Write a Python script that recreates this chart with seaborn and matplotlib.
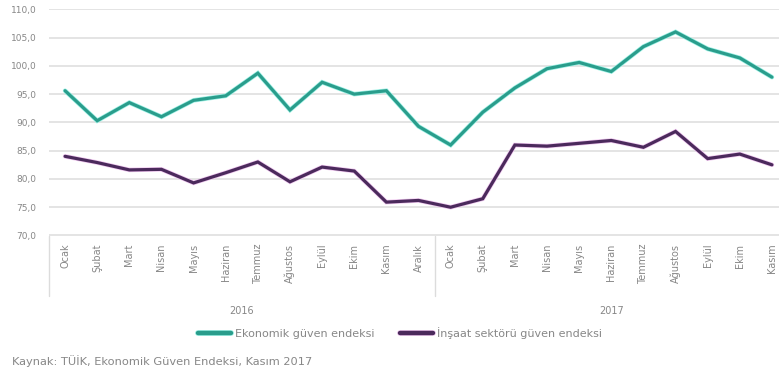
import numpy as np
import pandas as pd
import matplotlib
matplotlib.use("Agg")
import matplotlib.pyplot as plt
import matplotlib.patheffects as pe
import seaborn as sns

# Monthly index values, Jan 2016 - Nov 2017
months = ["Ocak", "Şubat", "Mart", "Nisan", "Mayıs", "Haziran", "Temmuz",
          "Ağustos", "Eylül", "Ekim", "Kasım", "Aralık",
          "Ocak", "Şubat", "Mart", "Nisan", "Mayıs", "Haziran", "Temmuz",
          "Ağustos", "Eylül", "Ekim", "Kasım"]
years = ["2016", "2017"]
year_lengths = [12, 11]

ekonomik = [95.6, 90.3, 93.5, 91.0, 93.9, 94.7, 98.7, 92.2, 97.1, 95.0, 95.6, 89.3,
            86.0, 91.8, 96.1, 99.5, 100.6, 99.0, 103.4, 106.0, 103.0, 101.4, 98.0]
insaat = [84.0, 82.9, 81.6, 81.7, 79.3, 81.1, 83.0, 79.5, 82.1, 81.4, 75.9, 76.2,
          75.0, 76.5, 86.0, 85.8, 86.3, 86.8, 85.6, 88.4, 83.6, 84.4, 82.5]

series_names = ["Ekonomik güven endeksi", "İnşaat sektörü güven endeksi"]
palette = {series_names[0]: "#2a9d8c", series_names[1]: "#4b2a5c"}
halo = {series_names[0]: "#9ff2e6", series_names[1]: "#f0c8f0"}
source_note = "Kaynak: TÜİK, Ekonomik Güven Endeksi, Kasım 2017"

yticks = [70, 75, 80, 85, 90, 95, 100, 105, 110]

df = pd.concat([
    pd.DataFrame({"pos": np.arange(len(months)), "value": ekonomik, "seri": series_names[0]}),
    pd.DataFrame({"pos": np.arange(len(months)), "value": insaat, "seri": series_names[1]}),
])

sns.set_theme(style="white")
plt.rcParams["font.family"] = ["DejaVu Sans"]
text_color = "#878787"
grid_color = "#e4e4e4"

W, H = 779, 376
fig = plt.figure(figsize=(W / 100, H / 100), dpi=100)
ax = fig.add_axes([49 / W, 1 - 235.5 / H, 1 - 49 / W, (235.5 - 9.3) / H])

sns.lineplot(data=df, x="pos", y="value", hue="seri", palette=palette,
             linewidth=2.3, ax=ax, legend=False, sort=False)
for line, name in zip(ax.get_lines(), series_names):
    line.set_path_effects([pe.Stroke(linewidth=3.3, foreground=halo[name]), pe.Normal()])
    line.set_solid_joinstyle("miter")

ax.set_ylim(70, 110)
ax.set_xlim(-0.5, len(months) - 0.5 - 0.28)
ax.set_yticks(yticks)
ax.set_yticklabels([f"{v:.1f}".replace(".", ",") for v in yticks])
ax.yaxis.grid(True, color=grid_color, linewidth=1.4)
ax.set_axisbelow(True)
for s in ax.spines.values():
    s.set_visible(False)

ax.set_xticks(np.arange(len(months)))
ax.set_xticklabels(months, rotation=90, va="top", ha="center")
ax.tick_params(axis="x", length=0, pad=6, labelsize=7, labelcolor=text_color)
ax.tick_params(axis="y", length=0, pad=9, labelsize=6.5, labelcolor=text_color)
ax.set_xlabel("")
ax.set_ylabel("")

# Category group dividers and year labels below the month labels
trans = matplotlib.transforms.blended_transform_factory(ax.transData, ax.transAxes)
depth = -(296 - 235.5) / (235.5 - 9.3)
start = 0
for yr, n in zip(years, year_lengths):
    ax.plot([start - 0.5, start - 0.5], [0, depth], transform=trans,
            color="#dcdcdc", linewidth=1.0, clip_on=False)
    ax.text(start + (n - 1) / 2, -(311 - 235.5) / (235.5 - 9.3), yr, transform=trans,
            ha="center", va="center", fontsize=7, color=text_color)
    start += n

handles = [plt.Line2D([], [], color=palette[n], linewidth=3.2,
                      path_effects=[pe.Stroke(linewidth=4.2, foreground=halo[n]), pe.Normal()])
           for n in series_names]
fig.legend(handles, series_names, loc="center", bbox_to_anchor=(400 / W, 1 - 333 / H),
           ncol=2, frameon=False, fontsize=8, labelcolor=text_color,
           handlelength=3.0, handletextpad=0.35, columnspacing=2.3)

fig.text(12 / W, 1 - 361 / H, source_note, ha="left", va="center",
         fontsize=8.2, color=text_color)

fig.savefig("out.png", dpi=100)
